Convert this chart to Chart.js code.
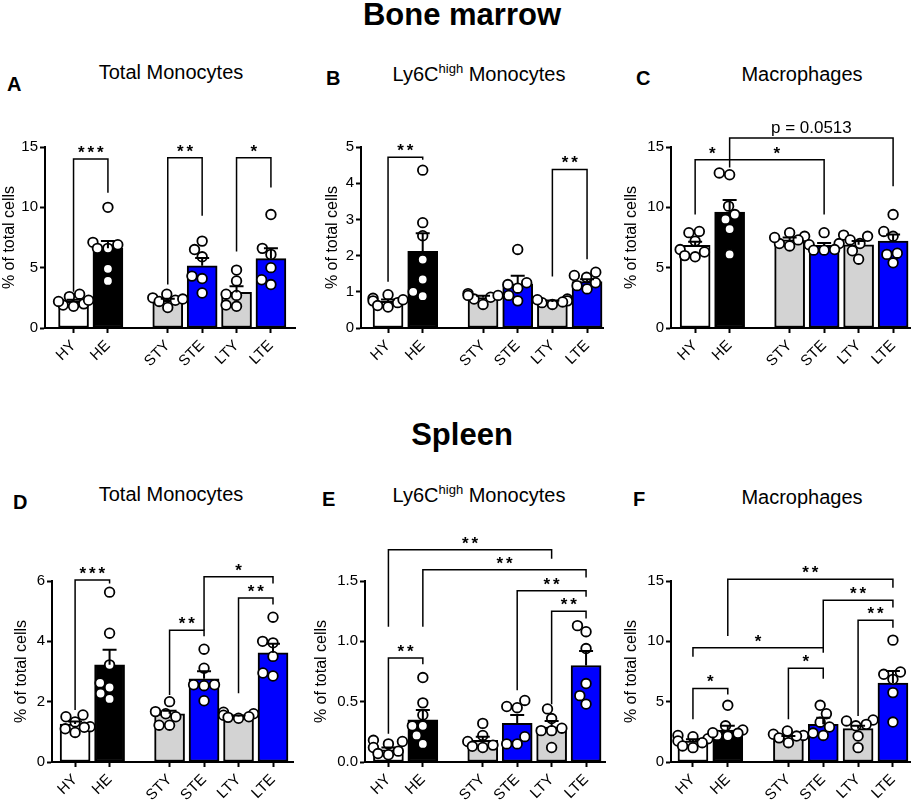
<!DOCTYPE html>
<html>
<head>
<meta charset="utf-8">
<script src="https://cdn.jsdelivr.net/npm/chart.js@4.4.1/dist/chart.umd.min.js"></script>
<style>
  html, body { margin:0; padding:0; background:#fff; }
  body { width:920px; height:806px; position:relative; overflow:hidden; font-family:'Liberation Sans', Arial, sans-serif; color:#000; }
  .txt { position:absolute; white-space:nowrap; line-height:1; }
  .main { font-weight:bold; font-size:31px; transform:translateX(-50%); }
  .ptitle { font-size:20px; transform:translateX(-50%); }
  .ptitle sup { font-size:13px; vertical-align:0; position:relative; top:-8px; }
  .letter { font-weight:bold; font-size:20px; }
  canvas { position:absolute; }
</style>
</head>
<body>
<div class="txt main" style="left:462px; top:-1px;">Bone marrow</div>
<div class="txt main" style="left:462px; top:419px;">Spleen</div>

<div class="txt letter" style="left:7px; top:74px;">A</div>
<div class="txt letter" style="left:326px; top:68px;">B</div>
<div class="txt letter" style="left:636px; top:68px;">C</div>
<div class="txt letter" style="left:13px; top:492px;">D</div>
<div class="txt letter" style="left:322px; top:489px;">E</div>
<div class="txt letter" style="left:633px; top:489px;">F</div>

<div class="txt ptitle" style="left:171px; top:62px;">Total Monocytes</div>
<div class="txt ptitle" style="left:479px; top:64px;">Ly6C<sup>high</sup> Monocytes</div>
<div class="txt ptitle" style="left:802px; top:64px;">Macrophages</div>
<div class="txt ptitle" style="left:171px; top:484px;">Total Monocytes</div>
<div class="txt ptitle" style="left:479px; top:485px;">Ly6C<sup>high</sup> Monocytes</div>
<div class="txt ptitle" style="left:802px; top:487px;">Macrophages</div>

<script>
// ---------- shared categories ----------
const categories = ['HY', 'HE', 'STY', 'STE', 'LTY', 'LTE'];
const catPositions = [0, 1, 2.74, 3.74, 4.74, 5.74];
const barColors = ['#ffffff', '#000000', '#d3d3d3', '#0000ff', '#d3d3d3', '#0000ff'];
const yAxisTitle = '% of total cells';

// ---------- A: Bone marrow, Total Monocytes ----------
const aMeans = [2.2, 6.6, 2.3, 5.15, 2.95, 5.75];
const aSems  = [0.15, 0.6, 0.12, 0.65, 0.5, 0.85];
const aPoints = [
  [1.8, 2.0, 2.3, 2.6, 2.8, 1.9, 2.2],
  [10.0, 6.6, 6.9, 7.1, 6.6, 4.9, 3.9],
  [2.3, 2.5, 2.2, 2.8, 1.7, 2.4],
  [6.5, 7.2, 5.9, 4.1, 2.9, 4.3],
  [4.8, 3.9, 2.8, 2.7, 1.8, 1.9],
  [9.4, 6.6, 6.1, 5.0, 4.0, 3.6]
];
const aBrackets = [
  [0, 1, 14.0, 3.0, 11.2, '***'],
  [2, 3, 14.1, 3.6, 9.3, '**'],
  [4, 5, 14.1, 6.35, 11.65, '*']
];

// ---------- B: Bone marrow, Ly6Chigh Monocytes ----------
const bMeans = [0.74, 2.12, 0.84, 1.22, 0.72, 1.28];
const bSems  = [0.05, 0.5, 0.05, 0.22, 0.04, 0.07];
const bPoints = [
  [0.70, 0.78, 0.82, 0.75, 0.92, 0.58, 0.62],
  [4.36, 2.91, 2.55, 1.89, 1.34, 0.88, 1.0],
  [0.85, 0.9, 0.95, 0.8, 0.9, 0.65],
  [2.17, 1.2, 1.1, 1.25, 0.9, 0.75],
  [0.8, 0.75, 0.72, 0.7, 0.65, 0.78],
  [1.54, 1.45, 1.4, 1.17, 1.08, 1.25]
];
const bBrackets = [
  [0, 1, 4.72, 1.28, 4.65, '**'],
  [4, 5, 4.38, 1.42, 1.9, '**']
];

// ---------- C: Bone marrow, Macrophages ----------
const cMeans = [6.85, 9.6, 7.3, 6.85, 6.9, 7.2];
const cSems  = [0.3, 1.0, 0.2, 0.2, 0.3, 0.55];
const cPoints = [
  [8.0, 7.9, 7.2, 6.5, 6.3, 5.9, 6.0],
  [12.7, 12.85, 10.1, 9.4, 9.0, 8.2, 6.1],
  [7.9, 7.6, 7.3, 7.0, 7.5, 6.8],
  [7.9, 7.0, 6.9, 6.5, 6.45, 6.45],
  [7.7, 7.6, 7.3, 7.0, 6.4, 5.7],
  [9.4, 8.0, 7.6, 6.2, 6.1, 5.4]
];
const cBrackets = [
  [0, 1, 13.95, 9.4, 13.3, '*'],
  [1, 3, 13.95, 13.95, 9.4, '*'],
  [1, 5, 15.75, 13.95, 11.74, 'p = 0.0513']
];

// ---------- D: Spleen, Total Monocytes ----------
const dMeans = [1.26, 3.22, 1.6, 2.76, 1.5, 3.62];
const dSems  = [0.08, 0.5, 0.1, 0.25, 0.04, 0.3];
const dPoints = [
  [1.56, 1.5, 1.33, 1.17, 1.1, 0.98, 1.15],
  [5.63, 4.27, 3.22, 2.62, 2.47, 2.27, 2.09],
  [2.0, 1.67, 1.6, 1.5, 1.22, 1.22],
  [3.74, 3.11, 2.56, 2.56, 2.53, 2.03],
  [1.65, 1.6, 1.55, 1.5, 1.48, 1.45],
  [4.8, 4.0, 3.95, 3.5, 2.95, 2.85]
];
const dBrackets = [
  [0, 1, 6.03, 1.72, 5.92, '***'],
  [2, 3, 4.37, 2.22, 4.17, '**'],
  [3, 5, 6.14, 4.37, 5.92, '*'],
  [4, 5, 5.44, 2.28, 5.22, '**']
];

// ---------- E: Spleen, Ly6Chigh Monocytes ----------
const eMeans = [0.1, 0.35, 0.18, 0.32, 0.29, 0.8];
const eSems  = [0.02, 0.08, 0.03, 0.07, 0.05, 0.12];
const ePoints = [
  [0.18, 0.17, 0.15, 0.12, 0.09, 0.07, 0.06],
  [0.70, 0.49, 0.39, 0.30, 0.30, 0.22, 0.15],
  [0.32, 0.22, 0.17, 0.14, 0.13, 0.12],
  [0.51, 0.46, 0.45, 0.21, 0.15, 0.15],
  [0.44, 0.36, 0.28, 0.26, 0.26, 0.12],
  [1.13, 1.08, 0.94, 0.65, 0.55, 0.48]
];
const eBrackets = [
  [0, 4, 1.76, 1.12, 1.685, '**'],
  [1, 5, 1.594, 1.12, 1.53, '**'],
  [3, 5, 1.42, 0.594, 1.37, '**'],
  [4, 5, 1.249, 0.478, 1.19, '**'],
  [0, 1, 0.862, 0.235, 0.81, '**']
];

// ---------- F: Spleen, Macrophages ----------
const fMeans = [1.74, 2.65, 2.0, 3.12, 2.76, 6.55];
const fSems  = [0.15, 0.35, 0.15, 0.55, 0.25, 1.0];
const fPoints = [
  [2.2, 2.1, 1.93, 1.74, 1.6, 1.33, 1.19],
  [4.7, 3.0, 2.65, 2.38, 2.2, 2.15, 2.43],
  [2.57, 2.3, 2.2, 2.15, 1.6, 2.0],
  [4.7, 4.0, 3.3, 2.9, 2.4, 2.2],
  [3.48, 3.4, 3.12, 3.0, 2.15, 1.19],
  [10.1, 7.46, 7.27, 6.85, 5.75, 3.31]
];
const fBrackets = [
  [1, 5, 15.14, 10.44, 14.45, '**'],
  [3, 5, 13.4, 9.47, 12.8, '**'],
  [4, 5, 11.74, 3.81, 11.13, '**'],
  [0, 3, 9.47, 8.73, 9.06, '*'],
  [2, 3, 7.76, 3.54, 6.9, '*'],
  [0, 1, 6.1, 3.54, 5.6, '*']
];

// ---------- layout (page pixels) ----------
const rows = [
  { top: 147, zero: 328, canvasTop: 100 },
  { top: 581, zero: 762, canvasTop: 520 }
];
const panels = [
  { means: aMeans, sems: aSems, points: aPoints, brackets: aBrackets, yMax: 15, yStep: 5, dec: 0,
    row: 0, axisX: 45, titleX: 10, right: 295, xmin: -0.83, xmax: 6.44 },
  { means: bMeans, sems: bSems, points: bPoints, brackets: bBrackets, yMax: 5, yStep: 1, dec: 0,
    row: 0, axisX: 361, titleX: 333, right: 603, xmin: -0.78, xmax: 6.2 },
  { means: cMeans, sems: cSems, points: cPoints, brackets: cBrackets, yMax: 15, yStep: 5, dec: 0,
    row: 0, axisX: 671, titleX: 632, right: 910, xmin: -0.70, xmax: 6.23 },
  { means: dMeans, sems: dSems, points: dPoints, brackets: dBrackets, yMax: 6, yStep: 2, dec: 0,
    row: 1, axisX: 52, titleX: 22, right: 293, xmin: -0.67, xmax: 6.32 },
  { means: eMeans, sems: eSems, points: ePoints, brackets: eBrackets, yMax: 1.5, yStep: 0.5, dec: 1,
    row: 1, axisX: 365, titleX: 322, right: 605, xmin: -0.68, xmax: 6.29 },
  { means: fMeans, sems: fSems, points: fPoints, brackets: fBrackets, yMax: 15, yStep: 5, dec: 0,
    row: 1, axisX: 671, titleX: 632, right: 910, xmin: -0.63, xmax: 6.23 }
];

Chart.defaults.font.family = "'Liberation Sans', Arial, sans-serif";
Chart.defaults.color = '#000';

// deterministic beeswarm placement of points around the category centre
function swarm(values, center, pxPerX, pxPerY) {
  const D = 10.5;
  const order = values.map((v, i) => i).sort((a, b) => values[a] - values[b]);
  const placed = [];
  const res = new Array(values.length);
  for (const i of order) {
    const y = values[i] * pxPerY;
    const cands = [0];
    for (const p of placed) {
      const dy = Math.abs(p.y - y);
      if (dy < D) {
        const dx = Math.sqrt(D * D - dy * dy);
        cands.push(p.x + dx, p.x - dx);
      }
    }
    cands.sort((a, b) => Math.abs(a) - Math.abs(b) || a - b);
    let best = 0;
    for (const c of cands) {
      if (placed.every(p => Math.hypot(p.x - c, p.y - y) >= D - 1e-6)) { best = c; break; }
    }
    best = Math.max(-15, Math.min(15, best));
    placed.push({ x: best, y });
    res[i] = center + best / pxPerX;
  }
  return res;
}

const errorBarPlugin = {
  id: 'errorBars',
  afterDatasetsDraw(chart) {
    const p = chart.options.plugins.errorBars;
    const xs = chart.scales.x, ys = chart.scales.y;
    const ctx = chart.ctx;
    ctx.save();
    ctx.strokeStyle = '#000';
    ctx.lineWidth = 2;
    p.means.forEach((m, i) => {
      const x = xs.getPixelForValue(catPositions[i]);
      const y0 = ys.getPixelForValue(m);
      const y1 = ys.getPixelForValue(m + p.sems[i]);
      ctx.beginPath();
      ctx.moveTo(x, y0); ctx.lineTo(x, y1);
      ctx.moveTo(x - 7, y1); ctx.lineTo(x + 7, y1);
      ctx.stroke();
    });
    ctx.restore();
  }
};

const bracketPlugin = {
  id: 'sigBrackets',
  afterDraw(chart) {
    const list = chart.options.plugins.sigBrackets.list;
    const xs = chart.scales.x, ys = chart.scales.y;
    const ctx = chart.ctx;
    ctx.save();
    ctx.strokeStyle = '#000';
    ctx.fillStyle = '#000';
    ctx.lineWidth = 1.5;
    ctx.lineJoin = 'miter';
    list.forEach(([i, j, yl, y1, y2, label]) => {
      const x1 = xs.getPixelForValue(catPositions[i]);
      const x2 = xs.getPixelForValue(catPositions[j]);
      const py = ys.getPixelForValue(yl);
      ctx.beginPath();
      ctx.moveTo(x1, ys.getPixelForValue(y1));
      ctx.lineTo(x1, py);
      ctx.lineTo(x2, py);
      ctx.lineTo(x2, ys.getPixelForValue(y2));
      ctx.stroke();
      const cx = (x1 + x2) / 2;
      ctx.textAlign = 'center';
      ctx.textBaseline = 'alphabetic';
      if (/^\*+$/.test(label)) {
        ctx.font = "bold 17px 'Liberation Sans', Arial, sans-serif";
        const n = label.length;
        for (let k = 0; k < n; k++) {
          ctx.fillText('*', cx + (k - (n - 1) / 2) * 9.5, py - 1);
        }
      } else {
        ctx.font = "17px 'Liberation Sans', Arial, sans-serif";
        ctx.fillText(label, cx, py - 5);
      }
    });
    ctx.restore();
  }
};

const X_AXIS_H = 45;
const PAD_R = 8;

panels.forEach(pn => {
  const row = rows[pn.row];
  const canvasLeft = Math.round(pn.titleX - 9.6);
  const padTop = row.top - row.canvasTop;
  const w = pn.right + PAD_R - canvasLeft;
  const h = padTop + (row.zero - row.top) + X_AXIS_H;
  const yAxisW = pn.axisX - canvasLeft;

  const cv = document.createElement('canvas');
  cv.width = w; cv.height = h;
  cv.style.left = canvasLeft + 'px';
  cv.style.top = row.canvasTop + 'px';
  cv.style.width = w + 'px';
  cv.style.height = h + 'px';
  document.body.appendChild(cv);

  const pxPerX = (pn.right - pn.axisX) / (pn.xmax - pn.xmin);
  const pxPerY = (row.zero - row.top) / pn.yMax;
  const scatterData = [];
  pn.points.forEach((vals, gi) => {
    const xsPos = swarm(vals, catPositions[gi], pxPerX, pxPerY);
    vals.forEach((v, k) => scatterData.push({ x: xsPos[k], y: v }));
  });

  new Chart(cv, {
    type: 'bar',
    data: {
      datasets: [
        {
          type: 'scatter',
          data: scatterData,
          pointRadius: 4.8,
          pointBorderWidth: 1.8,
          pointBackgroundColor: '#ffffff',
          pointBorderColor: '#000000',
          pointHoverRadius: 4.8,
          showLine: false,
          clip: false,
          order: 0
        },
        {
          type: 'bar',
          data: catPositions.map((p, i) => ({ x: p, y: pn.means[i] })),
          backgroundColor: barColors,
          borderColor: '#000000',
          borderWidth: 2,
          borderSkipped: false,
          barThickness: 30,
          order: 1
        }
      ]
    },
    options: {
      responsive: false,
      animation: false,
      events: [],
      layout: { padding: { left: 0, top: padTop, right: PAD_R, bottom: 0 } },
      plugins: {
        legend: { display: false },
        tooltip: { enabled: false },
        title: { display: false },
        errorBars: { means: pn.means, sems: pn.sems },
        sigBrackets: { list: pn.brackets }
      },
      scales: {
        x: {
          type: 'linear',
          min: pn.xmin,
          max: pn.xmax,
          offset: false,
          afterBuildTicks: s => { s.ticks = catPositions.map(v => ({ value: v })); },
          afterFit: s => { s.height = X_AXIS_H; s.paddingLeft = 0; s.paddingRight = 0; },
          ticks: {
            autoSkip: false,
            minRotation: 45,
            maxRotation: 45,
            padding: 4,
            font: { size: 15 },
            color: '#000',
            callback: (v, i) => categories[i]
          },
          grid: { display: true, offset: false, drawOnChartArea: false, drawTicks: true, tickLength: 5, tickWidth: 2, color: '#000' },
          border: { display: true, color: '#000', width: 2 }
        },
        y: {
          type: 'linear',
          min: 0,
          max: pn.yMax,
          afterFit: s => { s.width = yAxisW; },
          ticks: {
            stepSize: pn.yStep,
            padding: 2,
            font: { size: 15 },
            color: '#000',
            callback: v => Number(v).toFixed(pn.dec)
          },
          grid: { display: true, drawOnChartArea: false, drawTicks: true, tickLength: 5, tickWidth: 2, color: '#000' },
          border: { display: true, color: '#000', width: 2 },
          title: { display: true, text: yAxisTitle, font: { size: 16 }, color: '#000', padding: 0 }
        }
      }
    },
    plugins: [errorBarPlugin, bracketPlugin]
  });
});
</script>
</body>
</html>
